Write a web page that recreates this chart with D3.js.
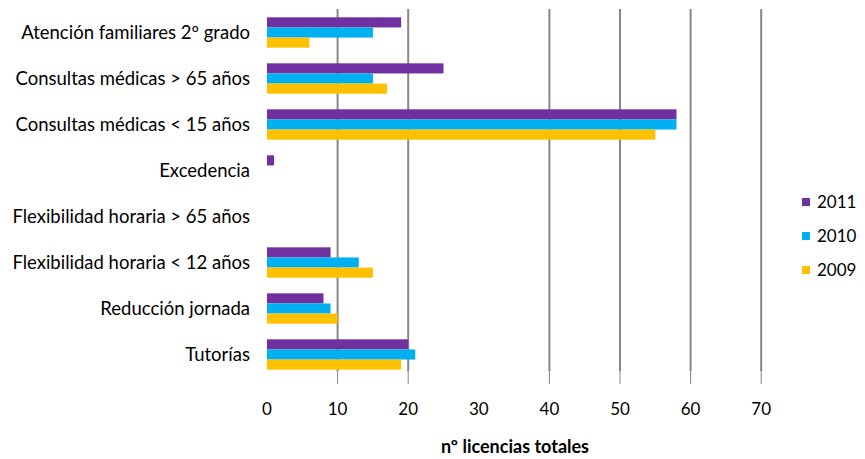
<!DOCTYPE html>
<html>
<head>
<meta charset="utf-8">
<script src="https://cdn.jsdelivr.net/npm/d3@7"></script>
<style>
  body { margin: 0; background: #fff; }
  text { font-family: Lato, "Open Sans", sans-serif; }
</style>
</head>
<body>
<div class="canvas"></div>
<script>
// categories top to bottom
const categories = [
    'Atención familiares 2º grado',
    'Consultas médicas > 65 años',
    'Consultas médicas < 15 años',
    'Excedencia',
    'Flexibilidad horaria > 65 años',
    'Flexibilidad horaria < 12 años',
    'Reducción jornada',
    'Tutorías'
];
const years = ['2011', '2010', '2009'];
const values2011 = [19, 25, 58, 1, 0, 9, 8, 20];
const values2010 = [15, 15, 58, 0, 0, 13, 9, 21];
const values2009 = [6, 17, 55, 0, 0, 15, 10, 19];
const tickValues = [0, 10, 20, 30, 40, 50, 60, 70];
const gridValues = [10, 20, 40, 50, 60, 70];  // no line at 30 in the original
const colors = ['#7030A0', '#00B0F0', '#FFC000'];

const series = [values2011, values2010, values2009];

const width = 865, height = 459;
const plotLeft = 267, plotTop = 9.5, plotBottom = 377.5;

const svg = d3.select('.canvas').append('svg')
    .attr('width', width)
    .attr('height', height);

const x = d3.scaleLinear()
    .domain([0, 70])
    .range([plotLeft, plotLeft + 7.06 * 70]);

const y = d3.scaleBand()
    .domain(categories)
    .range([plotTop, plotBottom])
    .paddingInner(0.34)
    .paddingOuter(0.17);

const yInner = d3.scaleBand()
    .domain(years)
    .range([0, y.bandwidth()]);

// gridlines
svg.selectAll('.grid')
    .data(gridValues)
    .enter().append('line')
    .attr('x1', d => x(d))
    .attr('x2', d => x(d))
    .attr('y1', 9)
    .attr('y2', 371)
    .attr('stroke', '#868686')
    .attr('stroke-width', 2);

svg.selectAll('.tick')
    .data(gridValues)
    .enter().append('line')
    .attr('x1', d => x(d))
    .attr('x2', d => x(d))
    .attr('y1', 370)
    .attr('y2', 384)
    .attr('stroke', '#868686')
    .attr('stroke-width', 1);

// bars
series.forEach((vals, i) => {
    svg.selectAll('.bar' + i)
        .data(vals)
        .enter().append('rect')
        .attr('x', x(0))
        .attr('y', (d, j) => y(categories[j]) + yInner(years[i]))
        .attr('width', d => x(d) - x(0))
        .attr('height', yInner.bandwidth())
        .attr('fill', colors[i]);
});

// category labels
svg.selectAll('.cat')
    .data(categories)
    .enter().append('text')
    .text(d => d)
    .attr('x', 250)
    .attr('y', d => y(d) + y.bandwidth() / 2)
    .attr('dy', '0.35em')
    .attr('text-anchor', 'end')
    .attr('font-size', 18.5)
    .attr('fill', '#000');

// tick labels
svg.selectAll('.tl')
    .data(tickValues)
    .enter().append('text')
    .text(d => d)
    .attr('x', d => x(d))
    .attr('y', 409)
    .attr('dy', '0.35em')
    .attr('text-anchor', 'middle')
    .attr('font-size', 17)
    .attr('fill', '#000');

// axis title
svg.append('text')
    .text('nº licencias totales')
    .attr('x', 515)
    .attr('y', 447)
    .attr('dy', '0.35em')
    .attr('text-anchor', 'middle')
    .attr('font-size', 18)
    .attr('font-weight', 'bold')
    .attr('fill', '#000');

// legend
const legendY = [202, 236, 270];
years.forEach((yr, i) => {
    svg.append('rect')
        .attr('x', 802)
        .attr('y', legendY[i] - 4)
        .attr('width', 8)
        .attr('height', 8)
        .attr('fill', colors[i]);
    svg.append('text')
        .text(yr)
        .attr('x', 817)
        .attr('y', legendY[i])
        .attr('dy', '0.35em')
        .attr('font-size', 17)
        .attr('fill', '#000');
});
</script>
</body>
</html>
